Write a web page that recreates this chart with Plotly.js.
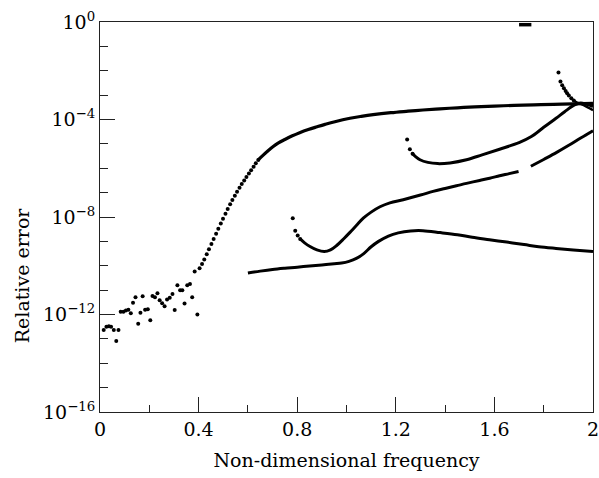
<!DOCTYPE html>
<html>
<head>
<meta charset="utf-8">
<script src="https://cdn.plot.ly/plotly-3.0.1.min.js"></script>
<style>html,body{margin:0;padding:0;background:#fff;}#chart{width:599px;height:478px;}</style>
</head>
<body>
<div id="chart"></div>
<script>
// Values: x = non-dimensional frequency, y stored as log10(relative error)
const noiseX = [0.015,0.026,0.036,0.045,0.056,0.066,0.075,0.084,0.095,0.105,0.115,0.125,0.134,0.144,0.155,0.164,0.173,0.183,0.194,0.204,0.213,0.223,0.233,0.242,0.252,0.262,0.272,0.283,0.294,0.303,0.314,0.325,0.334,0.343,0.354,0.365,0.374,0.395];
const noiseLogY = [-12.64,-12.50,-12.48,-12.50,-12.64,-13.09,-12.64,-11.89,-11.89,-11.84,-11.81,-11.95,-11.52,-11.29,-12.38,-11.93,-11.25,-11.81,-11.78,-12.24,-11.24,-11.29,-11.13,-11.42,-11.54,-11.66,-11.38,-11.31,-11.16,-11.82,-10.80,-11.01,-11.01,-11.55,-10.80,-10.75,-11.29,-12.00];

const riseX = [0.384,0.404,0.414,0.423,0.433,0.442,0.452,0.461,0.471,0.480,0.490,0.499,0.509,0.518,0.528,0.537,0.547,0.556,0.566,0.575,0.585,0.594,0.604,0.613,0.623,0.632,0.642];
const riseLogY = [-10.24,-10.10,-9.93,-9.74,-9.53,-9.32,-9.11,-8.90,-8.69,-8.48,-8.27,-8.07,-7.87,-7.67,-7.48,-7.30,-7.13,-6.96,-6.80,-6.65,-6.50,-6.36,-6.22,-6.08,-5.94,-5.80,-5.66];

const mainX = [0.642,0.66,0.683,0.70,0.724,0.75,0.778,0.81,0.845,0.88,0.913,0.953,1.014,1.06,1.108,1.18,1.25,1.31,1.379,1.45,1.52,1.60,1.68,1.76,1.84,1.918,2.0];
const mainLogY = [-5.66,-5.48,-5.27,-5.13,-4.96,-4.82,-4.68,-4.54,-4.41,-4.30,-4.20,-4.09,-3.95,-3.87,-3.80,-3.72,-3.66,-3.61,-3.56,-3.52,-3.48,-3.45,-3.42,-3.40,-3.38,-3.36,-3.34];

const dDotsX = [1.246,1.257,1.268];
const dDotsLogY = [-4.82,-5.22,-5.40];
const dLineX = [1.268,1.28,1.298,1.33,1.37,1.42,1.487,1.55,1.621,1.70,1.75,1.80,1.85,1.885,1.925,1.95,1.975,2.0];
const dLineLogY = [-5.40,-5.52,-5.65,-5.76,-5.81,-5.78,-5.65,-5.45,-5.22,-4.95,-4.70,-4.32,-3.95,-3.68,-3.40,-3.32,-3.38,-3.47];

const gDotsX = [1.860,1.868,1.875,1.882,1.889,1.895,1.902,1.912,1.922];
const gDotsLogY = [-2.07,-2.44,-2.60,-2.72,-2.83,-2.92,-3.02,-3.13,-3.22];
const gLineX = [1.922,1.932,1.95,1.975,2.0];
const gLineLogY = [-3.22,-3.29,-3.36,-3.48,-3.62];

const eDotsX = [0.782,0.792,0.802,0.812];
const eDotsLogY = [-8.05,-8.56,-8.76,-8.90];
const eLine1X = [0.812,0.83,0.852,0.88,0.91,0.935,0.96,0.99,1.014,1.04,1.068,1.10,1.136,1.176,1.23,1.30,1.351,1.40,1.446,1.487,1.54,1.581,1.621,1.66,1.698];
const eLine1LogY = [-8.90,-9.06,-9.21,-9.35,-9.42,-9.35,-9.17,-8.88,-8.63,-8.35,-8.05,-7.80,-7.58,-7.42,-7.29,-7.10,-6.95,-6.83,-6.72,-6.62,-6.50,-6.41,-6.31,-6.22,-6.13];
const eLine2X = [1.748,1.80,1.851,1.90,1.95,2.0];
const eLine2LogY = [-5.92,-5.64,-5.36,-5.07,-4.76,-4.46];

const fX = [0.600,0.65,0.70,0.75,0.80,0.85,0.90,0.95,0.98,1.01,1.04,1.07,1.10,1.13,1.17,1.21,1.26,1.31,1.38,1.45,1.51,1.58,1.65,1.72,1.78,1.85,1.92,2.0];
const fLogY = [-10.30,-10.22,-10.15,-10.10,-10.06,-10.01,-9.97,-9.92,-9.89,-9.82,-9.70,-9.50,-9.22,-9.00,-8.78,-8.65,-8.57,-8.56,-8.64,-8.73,-8.83,-8.93,-9.03,-9.13,-9.22,-9.29,-9.35,-9.42];

const hX = [1.70,1.75];
const hLogY = [-0.11,-0.11];

const xTickVals = [0,0.4,0.8,1.2,1.6,2];
const xTickText = ['0','0.4','0.8','1.2','1.6','2'];
const xMinorVals = [0.2,0.6,1.0,1.4,1.8];
const yTickExp = [0,-4,-8,-12,-16];
const yTickText = ['10<sup>0</sup>','10<sup>−4</sup>','10<sup>−8</sup>','10<sup>−12</sup>','10<sup>−16</sup>'];
const yMinorExp = [-1,-2,-3,-5,-6,-7,-9,-10,-11,-13,-14,-15];

const toVal = a => a.map(e => Math.pow(10, e));
const INK = '#000';

function dots(x, ly) {
  return {type:'scatter', mode:'markers', x:x, y:toVal(ly), hoverinfo:'skip',
          marker:{size:4, color:INK, line:{width:0}}, showlegend:false};
}
function curve(x, ly, w) {
  return {type:'scatter', mode:'lines', x:x, y:toVal(ly), hoverinfo:'skip',
          line:{color:INK, width:w||3, shape:'spline', smoothing:1}, showlegend:false};
}

const data = [
  dots(noiseX, noiseLogY),
  dots(riseX, riseLogY),
  curve(mainX, mainLogY, 3.2),
  dots(dDotsX, dDotsLogY),
  curve(dLineX, dLineLogY, 3),
  dots(gDotsX, gDotsLogY),
  curve(gLineX, gLineLogY, 2.5),
  dots(eDotsX, eDotsLogY),
  curve(eLine1X, eLine1LogY, 3),
  curve(eLine2X, eLine2LogY, 3),
  curve(fX, fLogY, 3),
  curve(hX, hLogY, 3.5)
];

const FONT = 'DejaVu Serif';
const layout = {
  width:599, height:478,
  margin:{l:100, r:6, t:22, b:66},
  paper_bgcolor:'#fff', plot_bgcolor:'#fff',
  font:{family:FONT, size:19, color:'#000'},
  showlegend:false,
  xaxis:{
    range:[0,2], showgrid:false, zeroline:false,
    showline:true, linecolor:'#222', linewidth:1, mirror:true,
    tickmode:'array', tickvals:xTickVals, ticktext:xTickText,
    ticks:'inside', ticklen:15, tickwidth:1, tickcolor:'#222',
    ticklabeloverflow:'allow',
    tickfont:{family:FONT, size:19, color:'#000'},
    minor:{tickmode:'array', tickvals:xMinorVals, ticks:'inside', ticklen:7, tickwidth:1, tickcolor:'#222', showgrid:false},
    title:{text:'Non-dimensional frequency', font:{family:FONT, size:19, color:'#000'}, standoff:14}
  },
  yaxis:{
    type:'log', range:[-16,0], showgrid:false, zeroline:false,
    showline:true, linecolor:'#222', linewidth:1, mirror:true,
    tickmode:'array', tickvals:toVal(yTickExp), ticktext:yTickText,
    ticks:'inside', ticklen:15, tickwidth:1, tickcolor:'#222',
    ticklabeloverflow:'allow',
    tickfont:{family:FONT, size:19, color:'#000'},
    minor:{tickmode:'array', tickvals:toVal(yMinorExp), ticks:'inside', ticklen:8, tickwidth:1, tickcolor:'#222', showgrid:false}
  },
  annotations:[{
    text:'Relative error', xref:'paper', yref:'paper',
    x:-0.158, y:0.351, xanchor:'center', yanchor:'middle',
    textangle:-90, showarrow:false,
    font:{family:FONT, size:19, color:'#000'}
  }]
};

Plotly.newPlot('chart', data, layout, {staticPlot:true, displayModeBar:false});
</script>
</body>
</html>
